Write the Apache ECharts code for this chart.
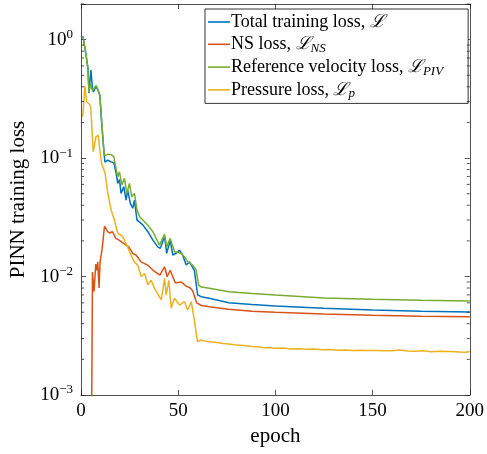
<!DOCTYPE html>
<html>
<head>
    <meta charset="utf-8" />
    <title>PINN training loss</title>
    <script src="https://cdn.jsdelivr.net/npm/echarts@6/dist/echarts.min.js"></script>
    <style>
        body { margin: 0; background: #fff; }
    </style>
</head>
<body>
    <div id="main" style="width: 487px;height:454px;"></div>
    <script type="text/javascript">
        // values, [epoch, loss]
        var totalLoss = [
            [1.0, 1.07], [1.5, 1.05], [2.6, 0.74], [3.6, 0.575], [4.1, 0.354], [5.1, 0.553],
            [5.9, 0.39], [6.4, 0.361], [7.7, 0.405], [8.7, 0.375], [9.7, 0.34], [10.7, 0.19],
            [12.0, 0.104], [12.3, 0.0925], [13.8, 0.096], [15.5, 0.093], [16.9, 0.0912],
            [18.1, 0.0743], [18.9, 0.0612], [19.8, 0.066], [20.6, 0.0504], [22.0, 0.0573],
            [23.2, 0.0442], [24.0, 0.0537], [25.4, 0.0415], [26.6, 0.0377], [27.5, 0.0442],
            [28.8, 0.030], [30.2, 0.0288], [31.9, 0.0272], [34.4, 0.0239], [37.0, 0.0203],
            [39.5, 0.0178], [40.8, 0.0173], [43.0, 0.0217], [44.1, 0.0157], [45.9, 0.0203],
            [47.2, 0.0152], [49.1, 0.0158], [50.6, 0.0167], [52.3, 0.0152], [54.1, 0.0125],
            [55.8, 0.0133], [58.3, 0.0113], [59.2, 0.0109], [60.0, 0.0070], [62.4, 0.00671],
            [66, 0.00655], [76, 0.00601], [88, 0.0058], [100, 0.00564], [125, 0.0054],
            [150, 0.00522], [175, 0.0051], [200, 0.00502]
        ];
        var nsLoss = [
            [5.3, 0.0002], [5.9, 0.0109], [6.7, 0.00745], [7.6, 0.0127], [8.2, 0.0113],
            [8.6, 0.0133], [9.3, 0.0080], [9.8, 0.0133], [10.8, 0.0167], [12.1, 0.0267],
            [13.5, 0.0242], [14.6, 0.0233], [16.2, 0.0239], [17.9, 0.021], [19.6, 0.0203],
            [22.1, 0.019], [24.6, 0.0178], [26.6, 0.0157], [28.3, 0.0152], [30.9, 0.0133],
            [34.3, 0.0125], [37.1, 0.0113], [40.6, 0.0103], [43.0, 0.0121], [44.3, 0.00996],
            [45.9, 0.0113], [48.5, 0.00881], [51.6, 0.0090], [54.1, 0.0083], [56.3, 0.0080],
            [57.5, 0.00755], [59.5, 0.0060], [62, 0.0057], [66, 0.00556], [76, 0.00529],
            [88, 0.0051], [100, 0.00499], [125, 0.00482], [150, 0.00471], [175, 0.00463],
            [200, 0.00458]
        ];
        var pivLoss = [
            [1.0, 1.07], [1.5, 1.07], [2.6, 0.74], [3.6, 0.553], [4.1, 0.36], [5.0, 0.42],
            [5.9, 0.37], [6.4, 0.36], [7.7, 0.41], [8.7, 0.38], [9.7, 0.34], [10.7, 0.2],
            [11.8, 0.112], [12.3, 0.105], [13.8, 0.108], [15.5, 0.107], [16.9, 0.103],
            [17.5, 0.09], [18.9, 0.0695], [19.8, 0.0766], [21.0, 0.0592], [22.3, 0.0675],
            [23.6, 0.0504], [24.9, 0.0612], [26.1, 0.0471], [27.5, 0.0504], [28.8, 0.0364],
            [30.2, 0.032], [33.6, 0.0281], [37.0, 0.0239], [40.4, 0.0184], [43.0, 0.0227],
            [44.1, 0.0178], [45.9, 0.021], [48.1, 0.0162], [51.5, 0.0157], [53.2, 0.0147],
            [54.9, 0.0133], [57.4, 0.0125], [59.2, 0.0114], [60.5, 0.00848], [62, 0.00815],
            [66, 0.00795], [76, 0.00745], [88, 0.0072], [100, 0.00698], [125, 0.0066],
            [150, 0.00642], [175, 0.0063], [200, 0.00621]
        ];
        var pressureLoss = [
            [0.9, 0.223], [2.0, 0.405], [2.9, 0.299], [4.3, 0.286], [5.0, 0.271], [6.3, 0.113],
            [7.7, 0.151], [8.9, 0.156], [9.7, 0.117], [10.6, 0.090], [11.4, 0.093],
            [12.4, 0.0743], [13.8, 0.0504], [15.5, 0.0364], [17.2, 0.030], [18.9, 0.0233],
            [21.5, 0.0217], [24.0, 0.0178], [25.7, 0.0152], [27.4, 0.0133], [29.1, 0.0125],
            [31.0, 0.0100], [32.7, 0.0106], [34.4, 0.0085], [36.1, 0.0093], [37.9, 0.0079],
            [41.3, 0.00634], [43.0, 0.00966], [43.8, 0.00698], [45.2, 0.0093], [46.4, 0.0054],
            [48.1, 0.00655], [50.7, 0.00575], [53.2, 0.00613], [54.9, 0.00522], [56.7, 0.00613],
            [58.3, 0.0043], [59.9, 0.00282], [61.7, 0.00291], [64, 0.00285], [66, 0.00282],
            [68, 0.0028], [70, 0.00278], [73, 0.00272], [76, 0.00269], [79, 0.00265],
            [82, 0.00263], [85, 0.0026], [88, 0.00257], [91, 0.00255], [94, 0.00251],
            [97, 0.0025], [100, 0.00248], [104, 0.00249], [108, 0.00245], [112, 0.00246],
            [116, 0.00243], [120, 0.00244], [124, 0.00241], [128, 0.00242], [132, 0.00239],
            [136, 0.0024], [140, 0.00238], [144, 0.00239], [148, 0.00237], [152, 0.00238],
            [156, 0.00236], [160, 0.00236], [164, 0.0024], [168, 0.00235], [172, 0.00234],
            [176, 0.00236], [180, 0.00232], [185, 0.00234], [190, 0.00233], [195, 0.00231],
            [198, 0.0023], [200, 0.00233]
        ];
        var seriesNames = [
            'Total training loss, {m|ℒ}',
            'NS loss, {m|ℒ}{s|NS}',
            'Reference velocity loss, {m|ℒ}{s|PIV}',
            'Pressure loss, {m|ℒ}{s|p}'
        ];
        var seriesColors = ['#0072BD', '#D95319', '#77AC30', '#EDB120'];
        var yDecades = [0.001, 0.01, 0.1, 1];
        var minorMultipliers = [2, 3, 4, 5, 6, 7, 8, 9];

        var font = '"Liberation Serif", "DejaVu Serif", serif';
        var axisColor = '#262626';

        // minor ticks of the log axis, like MATLAB: 2..9 x each decade
        var minorTicks = [];
        yDecades.forEach(function (d) {
            minorMultipliers.forEach(function (m) {
                if (d * m <= 2) minorTicks.push([0, d * m]);
            });
        });

        function powLabel(v) {
            var e = Math.log10(v);
            var r = Math.round(e);
            if (Math.abs(e - r) > 1e-6) return '';
            return '10{sup|' + (r < 0 ? '\u2212' + (-r) : r) + '}';
        }

        var myChart = echarts.init(document.getElementById('main'));
        var data = [totalLoss, nsLoss, pivLoss, pressureLoss];

        var series = data.map(function (d, i) {
            return {
                name: seriesNames[i],
                type: 'line',
                data: d,
                symbol: 'none',
                lineStyle: { color: seriesColors[i], width: 1.5 },
                itemStyle: { color: seriesColors[i] },
                z: 2 + i,
                animation: false
            };
        });

        series.push({
            type: 'custom',
            silent: true,
            animation: false,
            clip: false,
            z: 10,
            data: minorTicks,
            renderItem: function (params, api) {
                var p = api.coord([0, api.value(1)]);
                var cs = params.coordSys;
                return {
                    type: 'group',
                    children: [
                        { type: 'line', shape: { x1: cs.x, y1: p[1], x2: cs.x + 3, y2: p[1] },
                          style: { stroke: axisColor, lineWidth: 0.8 } },
                        { type: 'line', shape: { x1: cs.x + cs.width - 3, y1: p[1], x2: cs.x + cs.width, y2: p[1] },
                          style: { stroke: axisColor, lineWidth: 0.8 } }
                    ]
                };
            }
        });

        var option = {
            backgroundColor: '#fff',
            animation: false,
            grid: { left: 81, right: 15, top: 4, bottom: 59 },
            legend: {
                data: seriesNames,
                orient: 'vertical',
                left: 205,
                top: 9,
                padding: [3, 25, 3, 3],
                itemGap: 2.3,
                itemWidth: 22,
                itemHeight: 1.6,
                icon: 'rect',
                backgroundColor: '#fff',
                borderColor: '#000',
                borderWidth: 0.8,
                borderRadius: 0,
                textStyle: {
                    fontFamily: font,
                    fontSize: 18,
                    color: '#000',
                    lineHeight: 20,
                    padding: [0, 0, 0, -4],
                    rich: {
                        m: { fontFamily: font, fontSize: 18, fontStyle: 'italic', color: '#000' },
                        s: { fontFamily: font, fontSize: 13, fontStyle: 'italic', color: '#000',
                             padding: [8, 0, 0, 0] }
                    }
                }
            },
            xAxis: [{
                type: 'value',
                min: 0,
                max: 200,
                interval: 50,
                name: 'epoch',
                nameLocation: 'middle',
                nameGap: 30,
                nameTextStyle: { fontFamily: font, fontSize: 21, color: '#000' },
                axisLine: { onZero: false, lineStyle: { color: axisColor, width: 0.8 } },
                axisTick: { inside: true, length: 5, lineStyle: { color: axisColor, width: 0.8 } },
                axisLabel: { fontFamily: font, fontSize: 19, color: '#000', margin: 7 },
                splitLine: { show: false }
            }, {
                type: 'value',
                position: 'top',
                min: 0,
                max: 200,
                interval: 50,
                axisLine: { onZero: false, lineStyle: { color: axisColor, width: 0.8 } },
                axisTick: { inside: true, length: 5, lineStyle: { color: axisColor, width: 0.8 } },
                axisLabel: { show: false },
                splitLine: { show: false }
            }],
            yAxis: [{
                type: 'log',
                logBase: 10,
                min: 0.001,
                max: 2,
                name: 'PINN training loss',
                nameLocation: 'middle',
                nameGap: 45,
                nameTextStyle: { fontFamily: font, fontSize: 21, color: '#000' },
                axisLine: { onZero: false, lineStyle: { color: axisColor, width: 0.8 } },
                axisTick: { inside: true, length: 5, lineStyle: { color: axisColor, width: 0.8 } },
                axisLabel: {
                    fontFamily: font, fontSize: 19, color: '#000', margin: 8,
                    formatter: powLabel,
                    rich: { sup: { fontFamily: font, fontSize: 13, color: '#000', padding: [0, 0, 10, 0] } }
                },
                splitLine: { show: false }
            }, {
                type: 'log',
                logBase: 10,
                position: 'right',
                min: 0.001,
                max: 2,
                axisLine: { onZero: false, lineStyle: { color: axisColor, width: 0.8 } },
                axisTick: { inside: true, length: 5, lineStyle: { color: axisColor, width: 0.8 } },
                axisLabel: { show: false },
                splitLine: { show: false }
            }],
            series: series
        };

        myChart.setOption(option);
    </script>
</body>
</html>
